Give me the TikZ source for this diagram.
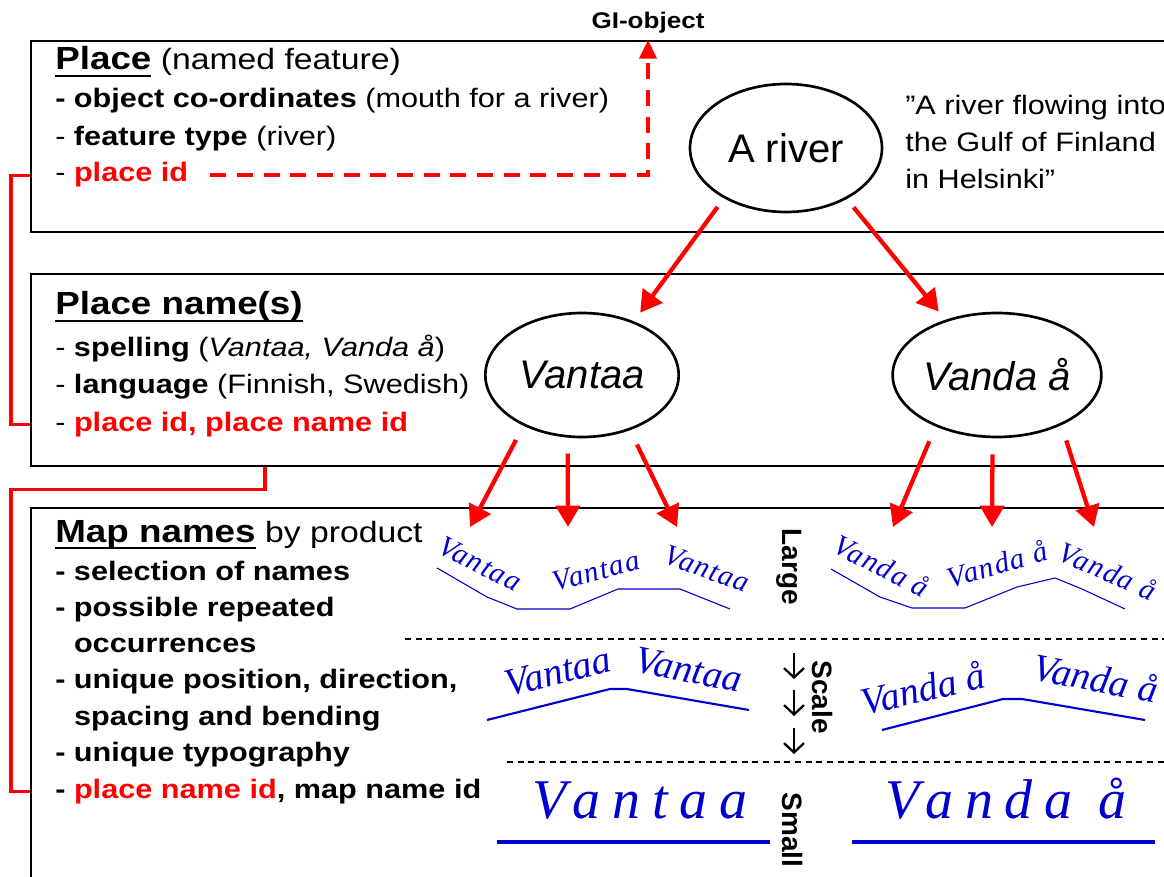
\documentclass[tikz,border=0pt]{standalone}
\usepackage{fontspec}
\setmainfont{Liberation Sans}[FakeStretch=1.15]
\newfontfamily\ovalfont{Liberation Sans}
\newfontfamily\mapfont{Liberation Serif}
\newfontfamily\mapsmall{Liberation Serif}[LetterSpace=5]
\newfontfamily\mapwide{Liberation Serif}[LetterSpace=21]
\usetikzlibrary{shapes.geometric,arrows.meta,calc}
\definecolor{idred}{RGB}{255,0,0}
\definecolor{mapblue}{RGB}{0,0,205}
\newcommand{\ulhead}[1]{{\fontsize{24}{28}\selectfont\bfseries\setbox0\hbox{#1}\rlap{\rule[-5.2pt]{\wd0}{1.8pt}}\box0}}
\tikzstyle{panel} = [draw, line width=1.8pt, rectangle, anchor=north west, inner sep=0pt, minimum width=875pt]
\tikzstyle{boxhead} = [anchor=base west, inner sep=0pt, font=\fontsize{22}{26}\selectfont]
\tikzstyle{boxentry} = [anchor=base west, inner sep=0pt, font=\fontsize{20}{24}\selectfont]
\tikzstyle{quoteline} = [anchor=base west, inner sep=0pt, font=\fontsize{20}{24}\selectfont]
\tikzstyle{oval} = [draw, ellipse, line width=2pt, inner sep=0pt, font=\ovalfont\fontsize{30}{36}\selectfont]
\tikzstyle{sidelab} = [rotate=-90, inner sep=0pt, font=\ovalfont\bfseries\fontsize{21}{24}\selectfont]
\tikzstyle{scalestep} = [draw, line width=1.7pt, -{Straight Barb[length=7pt,width=15pt]}]
\tikzstyle{mapname} = [inner sep=0pt, text=mapblue, font=\mapsmall\itshape\fontsize{22}{24}\selectfont]
\tikzstyle{labelcurve} = [draw, mapblue, line width=0.8pt]
\tikzstyle{scaleline} = [draw, line width=0.9pt, dash pattern=on 4.5pt off 3.5pt]
\tikzstyle{nameflow} = [draw, idred, line width=3.2pt, -{Triangle[length=16pt,width=18pt]}, shorten <=8pt, shorten >=8pt]
\tikzstyle{idlink} = [draw, idred, line width=2.4pt]
\tikzstyle{giline} = [draw, idred, line width=2.6pt, dash pattern=on 12pt off 8pt, -{Triangle[length=14pt,width=13pt]}]

\begin{document}
\begin{tikzpicture}[x=0.75pt, y=-0.75pt]
    \useasboundingbox (0,0) rectangle (1164,877);
    \clip (0,0) rectangle (1164,877);
    % the three boxes
    \node[panel, minimum height=143pt] (place) at (30,40) {};
    \node[panel, minimum height=144pt] (pname) at (30,273) {};
    \node[panel, minimum height=300pt] (maps) at (30,507) {};
    % place
    \node[boxhead] (placehd) at (55,70) {\ulhead{Place} (named feature)};
    \node[boxentry] (coords) at ($(placehd.base west)+(0,38)$) {\textbf{- object co-ordinates} (mouth for a river)};
    \node[boxentry] (ftype) at ($(coords.base west)+(0,38)$) {- \textbf{feature type} (river)};
    \node[boxentry] (pid1) at ($(ftype.base west)+(0,36)$) {- \textcolor{idred}{\textbf{place id}}};
    % place names
    \node[boxhead] (pnamehd) at (55,315) {\ulhead{Place name(s)}};
    \node[boxentry] (spell) at ($(pnamehd.base west)+(0,42)$) {- \textbf{spelling} (\textit{Vantaa, Vanda å})};
    \node[boxentry] (lang) at ($(spell.base west)+(0,36)$) {- \textbf{language} (Finnish, Swedish)};
    \node[boxentry] (pid2) at ($(lang.base west)+(0,38)$) {- \textcolor{idred}{\textbf{place id, place name id}}};
    % map names
    \node[boxhead] (mapshd) at (55,542) {\ulhead{Map names} by product};
    \foreach \txt [count=\i] in {{- selection of names}, {- possible repeated}, {\hphantom{- }occurrences},
        {- unique position, direction,}, {\hphantom{- }spacing and bending}, {- unique typography}}
        \node[boxentry, font=\bfseries\fontsize{20}{24}\selectfont] (m\i) at (55,{580+36.3*(\i-1)}) {\txt};
    \node[boxentry, font=\bfseries\fontsize{20}{24}\selectfont] (pid3) at (55,798) {- \textcolor{idred}{place name id}, map name id};
    % quote and GI-object
    \node[quoteline] (q1) at (905,115) {”A river flowing into};
    \node[quoteline] (q2) at ($(q1.base west)+(0,37)$) {the Gulf of Finland};
    \node[quoteline] (q3) at ($(q2.base west)+(0,37)$) {in Helsinki”};
    \node[anchor=base, inner sep=0pt, font=\bfseries\fontsize{17}{20}\selectfont] (giobj) at (648,29) {GI-object};
    % ellipses
    \node[oval, minimum width=144pt, minimum height=96pt] (river) at (786,148) {A river};
    \node[oval, minimum width=145pt, minimum height=93pt] (vantaa) at (582,375) {\itshape Vantaa};
    \node[oval, minimum width=145pt, minimum height=93pt] (vanda) at (997,375) {\itshape Vanda å};
    % scale column
    \node[sidelab] (large) at (789,567) {Large};
    \node[sidelab] (scale) at (822,697) {Scale};
    \foreach \y in {653,690,728}
        \draw[scalestep] (794,\y) -- ++(0,26);
    \node[sidelab] (small) at (792,830) {Small};
    \draw[scaleline] (405,639) -- (1164,639);
    \draw[scaleline] (507,762) -- (1164,762);
    % large scale names
    \node[mapname, rotate=-27] (lv1) at (480,564) {Vantaa};
    \node[mapname, rotate=15] (lv2) at (596,571) {Vantaa};
    \node[mapname, rotate=-20] (lv3) at (707,569) {Vantaa};
    \node[mapname, rotate=-27] (lw1) at (882,566) {Vanda å};
    \node[mapname, rotate=16] (lw2) at (997,564) {Vanda å};
    \node[mapname, rotate=-24] (lw3) at (1108,571) {Vanda å};
    \draw[labelcurve] (437,568) -- (487,597) -- (517,609) -- (570,609) -- (618,589) -- (680,589) -- (730,609);
    \draw[labelcurve] (831,569) -- (880,597) -- (912,608) -- (965,608) -- (1017,587) -- (1055,578) -- (1082,589) -- (1125,609);
    % middle scale names
    \node[mapname, font=\mapfont\itshape\fontsize{29}{32}\selectfont, rotate=14] (mv1) at (558,672) {Vantaa};
    \node[mapname, font=\mapfont\itshape\fontsize{29}{32}\selectfont, rotate=-11] (mv2) at (689,670) {Vantaa};
    \node[mapname, font=\mapfont\itshape\fontsize{29}{32}\selectfont, rotate=13] (mw1) at (923,688) {Vanda å};
    \node[mapname, font=\mapfont\itshape\fontsize{29}{32}\selectfont, rotate=-11] (mw2) at (1096,678) {Vanda å};
    \draw[labelcurve, line width=1.6pt] (487,720) -- (610,689) -- (627,689) -- (749,710);
    \draw[labelcurve, line width=1.6pt] (882,730) -- (1003,699) -- (1022,699) -- (1145,720);
    % small scale names
    \node[mapname, anchor=base, font=\mapwide\itshape\fontsize{42}{48}\selectfont] (sv) at (640,818) {Vantaa};
    \node[mapname, anchor=base, font=\mapwide\itshape\fontsize{42}{48}\selectfont] (sw) at (1006,818) {Vanda å};
    \draw[labelcurve, line width=2.4pt] (497,842) -- (770,842);
    \draw[labelcurve, line width=2.4pt] (852,842) -- (1155,842);
    % id links
    \draw[idlink] (place.west |- pid1) -- ++(-19,0) |- (pname.west |- pid2);
    \draw[idlink] ($(pname.south west)+(235,0)$) -- ++(0,22) -| ($(maps.west |- pid3)+(-19,0)$) -- (maps.west |- pid3);
    \draw[giline] ($(pid1.east)+(22,0)$) -| (place.north -| giobj);
    % arrows between names
    \draw[nameflow] (river.219) -- (vantaa.46);
    \draw[nameflow] (river.320) -- (vanda.133);
    \coordinate (tipv1) at (470,527);
    \coordinate (tipv2) at (568,527);
    \coordinate (tipv3) at (677,527);
    \coordinate (tipw1) at (893,527);
    \coordinate (tipw2) at (992,527);
    \coordinate (tipw3) at (1094,527);
    \foreach \src/\ang/\tip in {vantaa/221/tipv1, vantaa/257/tipv2, vantaa/311/tipv3, vanda/220/tipw1, vanda/266/tipw2, vanda/322/tipw3}
        \draw[nameflow, shorten >=0pt, shorten <=12pt] (\src.\ang) -- (\tip);
\end{tikzpicture}
\end{document}
